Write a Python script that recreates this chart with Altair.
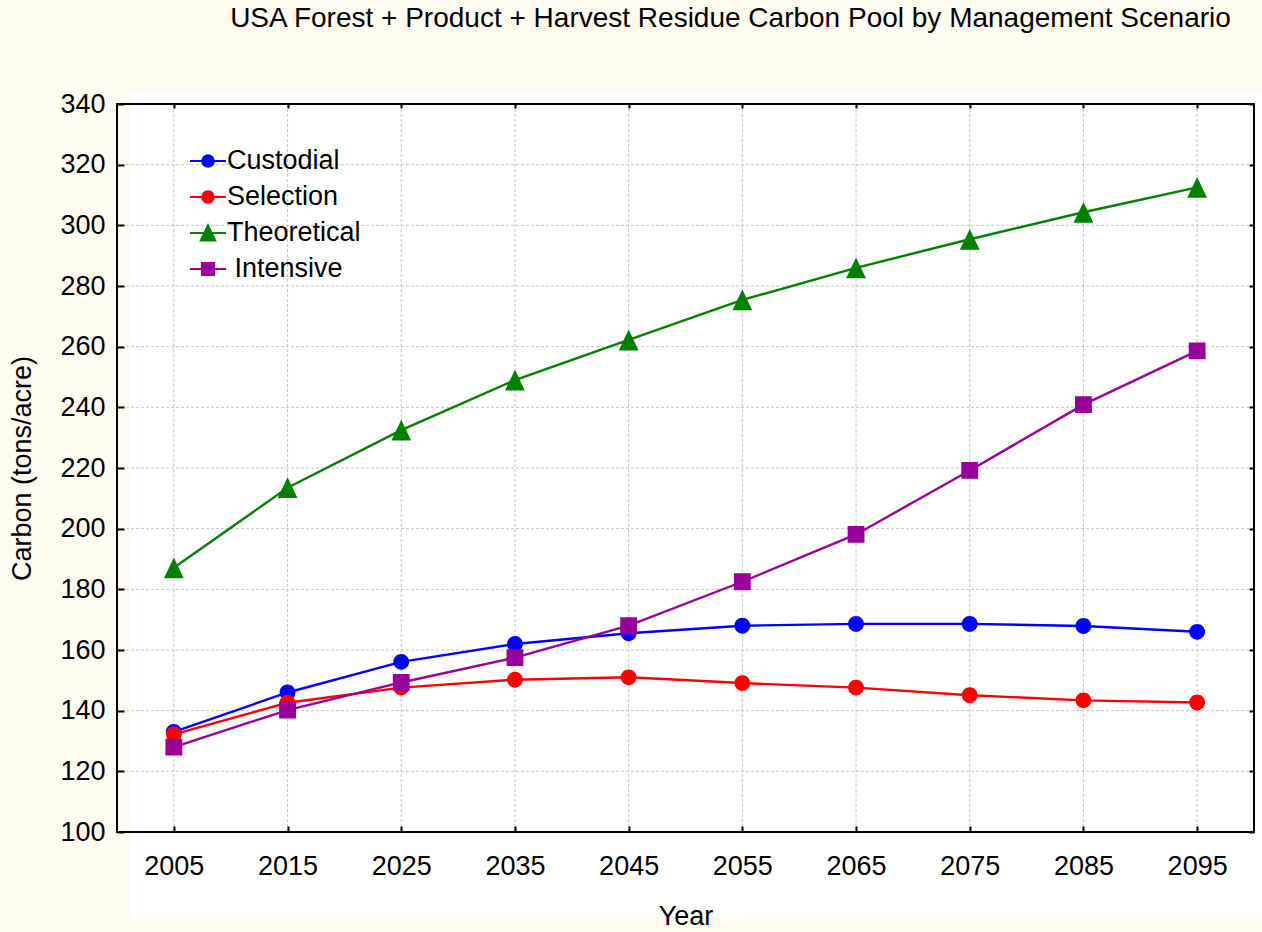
import altair as alt
import pandas as pd

# ---------------- data ----------------
years = [2005, 2015, 2025, 2035, 2045, 2055, 2065, 2075, 2085, 2095]
custodial = [133.0, 146.0, 156.1, 162.0, 165.5, 168.0, 168.6, 168.6, 167.9, 166.0]
selection = [132.2, 142.6, 147.6, 150.2, 151.0, 149.1, 147.6, 145.1, 143.4, 142.7]
theoretical = [187.1, 213.5, 232.5, 249.0, 262.2, 275.4, 286.0, 295.4, 304.3, 312.5]
intensive = [128.0, 140.2, 149.3, 157.5, 168.0, 182.5, 198.1, 219.2, 240.9, 258.6]
series_names = ["Custodial", "Selection", "Theoretical", "Intensive"]
y_ticks = [100, 120, 140, 160, 180, 200, 220, 240, 260, 280, 300, 320, 340]
grid_y = [120, 140, 160, 180, 200, 220, 240, 260, 280, 300, 320]

# ---------------- styles ----------------
series_colors = ["#0000FF", "#FF0000", "#008000", "#990099"]
# custom symbols: a horizontal stroke (only visible where stroked, i.e. in legend) + filled marker
series_shapes = [
    "M-1,0L1,0M-0.32,0A0.32,0.32,0,1,0,0.32,0A0.32,0.32,0,1,0,-0.32,0Z",
    "M-1,0L1,0M-0.32,0A0.32,0.32,0,1,0,0.32,0A0.32,0.32,0,1,0,-0.32,0Z",
    "M-1,0L1,0M0,-0.42L0.4,0.42L-0.4,0.42Z",
    "M-1,0L1,0M-0.34,-0.34L0.34,-0.34L0.34,0.34L-0.34,0.34Z",
]
FONT = "Liberation Sans"
W, H = 1137, 728

rows = []
for name, vals in zip(series_names, [custodial, selection, theoretical, intensive]):
    for yr, v in zip(years, vals):
        rows.append({"Year": yr, "Carbon": v, "Scenario": name})
df = pd.DataFrame(rows)
one = pd.DataFrame({"k": [0]})

xscale = alt.Scale(domain=[2000, 2100], nice=False, zero=False)
yscale = alt.Scale(domain=[100, 340], nice=False, zero=False)
cscale = alt.Scale(domain=series_names, range=series_colors)
sscale = alt.Scale(domain=series_names, range=series_shapes)

legend = alt.Legend(
    orient="none", legendX=72, legendY=38, title=None, padding=0,
    symbolSize=1296, symbolStrokeWidth=2, symbolOpacity=1,
    labelFontSize=27, labelFont=FONT, labelColor="black", labelOffset=0,
    labelLimit=400, rowPadding=4,
    labelExpr="(datum.label == 'Intensive' ? '\u200b\u00a0' : '') + datum.label",
)

x_bottom = alt.Axis(
    values=years, format="d", title="Year", grid=False, domain=False,
    tickSize=6, tickWidth=2, tickColor="black", offset=-6,
    labelPadding=21, labelFontSize=27, labelFont=FONT, labelColor="black",
    labelFlush=False, labelOverlap=False,
    titleFontSize=27, titleFont=FONT, titleFontWeight="normal", titleColor="black",
    titlePadding=24, zindex=1,
)
y_left = alt.Axis(
    values=y_ticks, title="Carbon (tons/acre)", grid=False, domain=False,
    tickSize=7, tickWidth=2, tickColor="black", offset=-7,
    labelPadding=12, labelFontSize=27, labelFont=FONT, labelColor="black",
    labelOverlap=False,
    titleFontSize=27, titleFont=FONT, titleFontWeight="normal", titleColor="black",
    titlePadding=23, zindex=1,
)
x_top = alt.Axis(
    orient="top", values=years, labels=False, title=None, grid=False, domain=False,
    tickSize=4, tickWidth=2, tickColor="black", offset=-4, zindex=1,
)
y_right = alt.Axis(
    orient="right", values=y_ticks, labels=False, title=None, grid=False, domain=False,
    tickSize=5, tickWidth=2, tickColor="black", offset=-5, zindex=1,
)

panel = alt.Chart(one).mark_rect(color="white").encode(
    x=alt.value(13), x2=alt.value(W + 8), y=alt.value(-12), y2=alt.value(H + 85)
)

grid_x_layer = alt.Chart(pd.DataFrame({"Year": years})).mark_rule(
    color="#c4c4c4", strokeDash=[3, 2], strokeWidth=1
).encode(x=alt.X("Year:Q", scale=xscale, axis=None))

grid_y_layer = alt.Chart(pd.DataFrame({"Carbon": grid_y})).mark_rule(
    color="#c4c4c4", strokeDash=[3, 2], strokeWidth=1
).encode(y=alt.Y("Carbon:Q", scale=yscale, axis=None))

lines = alt.Chart(df).mark_line(strokeWidth=2.4).encode(
    x=alt.X("Year:Q", scale=xscale, axis=x_bottom),
    y=alt.Y("Carbon:Q", scale=yscale, axis=y_left),
    color=alt.Color("Scenario:N", scale=cscale, legend=legend),
)

points = alt.Chart(df).mark_point(filled=True, opacity=1, size=2450, strokeWidth=0).encode(
    x=alt.X("Year:Q", scale=xscale, axis=x_top),
    y=alt.Y("Carbon:Q", scale=yscale, axis=y_right),
    color=alt.Color("Scenario:N", scale=cscale, legend=legend),
    shape=alt.Shape("Scenario:N", scale=sscale, legend=legend),
)

frame = alt.Chart(one).mark_rect(fillOpacity=0, stroke="black", strokeWidth=2).encode(
    x=alt.value(0), x2=alt.value(W), y=alt.value(0), y2=alt.value(H)
)

chart = (
    alt.layer(panel, grid_x_layer, grid_y_layer, lines, points, frame)
    .resolve_axis(x="independent", y="independent")
    .properties(
        width=W,
        height=H,
        title=alt.TitleParams(
            text="USA Forest + Product + Harvest Residue Carbon Pool by Management Scenario",
            fontSize=28, font=FONT, fontWeight="normal", color="black",
            anchor="middle", dx=45, frame="group", baseline="alphabetic", offset=35,
        ),
        background="#FFFBF0",
        padding={"left": 117, "top": 104, "right": 8, "bottom": 100},
        autosize=alt.AutoSizeParams(type="none"),
    )
    .configure_view(stroke=None)
)

chart.save("out.html", embed_options={"renderer": "svg", "actions": False})
